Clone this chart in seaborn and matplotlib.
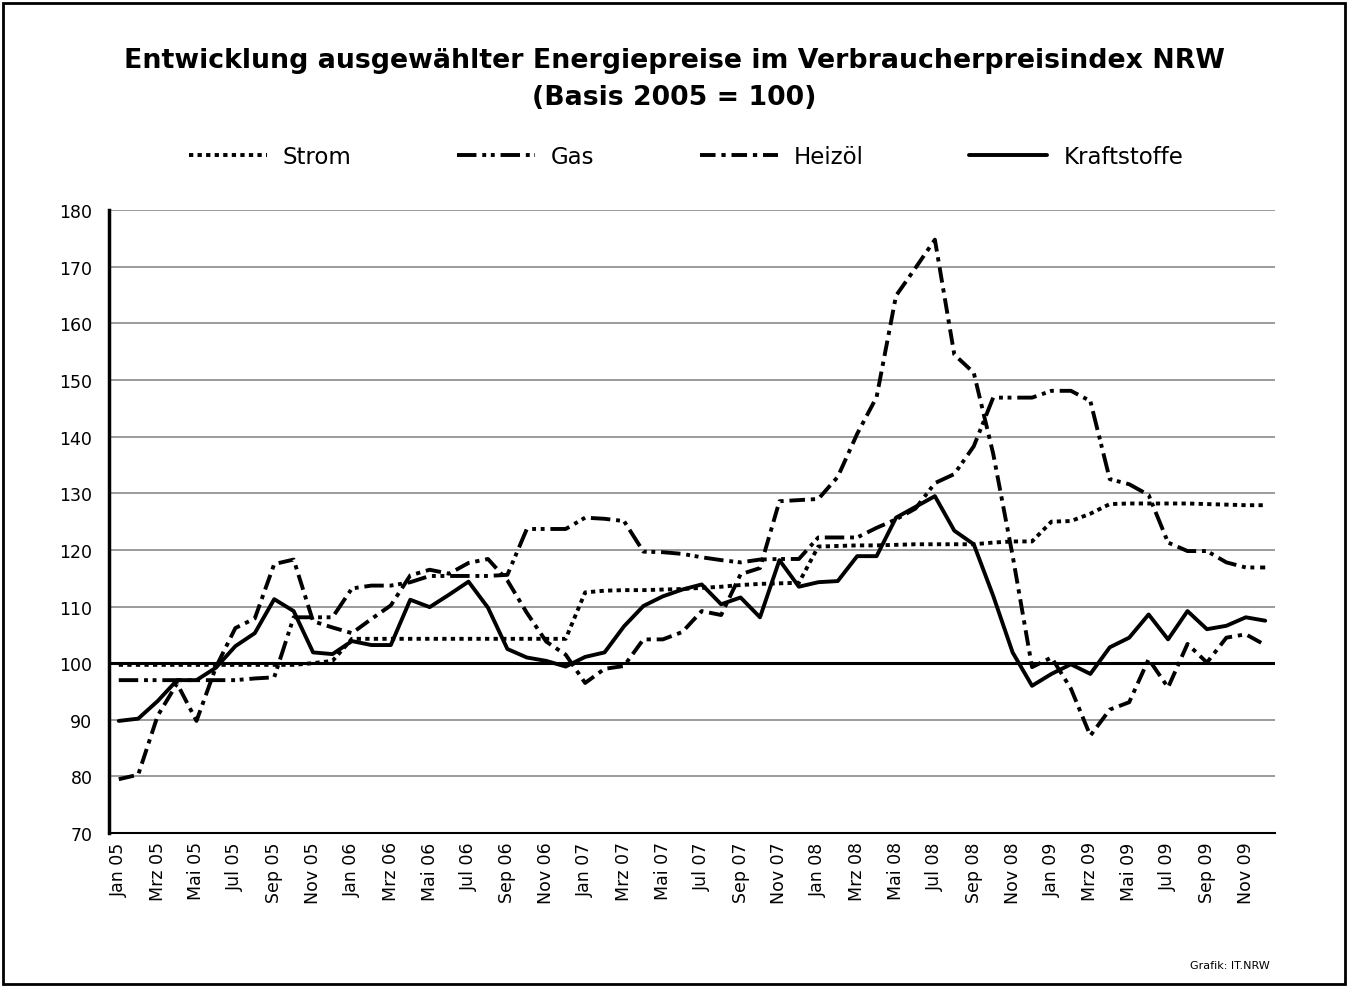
import matplotlib
matplotlib.use("Agg")
import matplotlib.pyplot as plt
import matplotlib.patches as mpatches
import seaborn as sns
import pandas as pd
import numpy as np

# ---------------- data ----------------
month_names = ["Jan", "Feb", "Mrz", "Apr", "Mai", "Jun", "Jul", "Aug", "Sep", "Okt", "Nov", "Dez"]
years = ["05", "06", "07", "08", "09"]
months = [f"{m} {y}" for y in years for m in month_names]

strom = [99.7, 99.7, 99.7, 99.7, 99.7, 99.7, 99.7, 99.7, 99.7, 99.7, 100.0, 100.4,
         104.3, 104.3, 104.3, 104.3, 104.3, 104.3, 104.3, 104.3, 104.3, 104.3, 104.3, 104.3,
         112.5, 112.8, 112.9, 112.9, 113.0, 113.1, 113.3, 113.5, 113.8, 114.0, 114.1, 114.2,
         120.6, 120.7, 120.8, 120.8, 120.9, 121.0, 121.0, 121.0, 121.0, 121.3, 121.5, 121.5,
         125.0, 125.1, 126.4, 128.1, 128.2, 128.2, 128.2, 128.2, 128.1, 128.0, 127.9, 127.9]

gas = [97.0, 97.0, 97.0, 97.0, 97.0, 97.0, 97.0, 97.3, 97.5, 108.1, 108.1, 108.1,
       113.2, 113.7, 113.7, 114.3, 115.4, 115.4, 115.4, 115.4, 115.6, 123.7, 123.7, 123.7,
       125.7, 125.5, 125.1, 119.7, 119.6, 119.3, 118.7, 118.2, 117.8, 118.3, 118.4, 118.4,
       122.2, 122.2, 122.2, 123.9, 125.4, 127.3, 131.8, 133.4, 138.3, 146.9, 146.9, 146.9,
       148.1, 148.1, 146.3, 132.5, 131.6, 129.7, 121.3, 119.8, 119.8, 117.8, 116.9, 116.9]

heizoel = [79.5, 80.3, 90.7, 96.4, 89.8, 99.3, 106.2, 107.9, 117.5, 118.3, 107.4, 106.3,
           105.3, 107.8, 110.2, 115.5, 116.5, 115.8, 117.7, 118.4, 114.6, 108.9, 103.8, 101.5,
           96.5, 99.0, 99.5, 104.2, 104.2, 105.5, 109.2, 108.5, 115.7, 116.8, 128.6, 128.8,
           129.0, 132.9, 140.5, 147.0, 164.9, 169.8, 174.8, 154.5, 151.3, 137.0, 119.0, 99.3,
           101.0, 95.5, 87.2, 91.8, 93.1, 100.7, 95.7, 103.4, 100.1, 104.5, 105.1, 103.2]

kraftstoffe = [89.8, 90.2, 93.3, 97.0, 97.0, 99.2, 103.0, 105.3, 111.3, 109.2, 101.9, 101.6,
               103.9, 103.2, 103.2, 111.2, 109.9, 112.1, 114.4, 109.8, 102.5, 101.0, 100.4, 99.4,
               101.1, 101.9, 106.5, 110.1, 111.8, 113.0, 113.9, 110.4, 111.6, 108.1, 118.2, 113.5,
               114.3, 114.5, 118.9, 118.9, 125.7, 127.6, 129.5, 123.4, 121.0, 111.9, 101.9, 96.0,
               98.1, 99.8, 98.1, 102.8, 104.5, 108.6, 104.2, 109.2, 106.0, 106.6, 108.1, 107.5]

series_names = ["Strom", "Gas", "Heizöl", "Kraftstoffe"]
y_ticks = [70, 80, 90, 100, 110, 120, 130, 140, 150, 160, 170, 180]

# ---------------- build long table ----------------
idx = np.arange(len(months))
df = pd.concat([
    pd.DataFrame({"idx": idx, "Monat": months, "Wert": vals, "Serie": name})
    for name, vals in zip(series_names, [strom, gas, heizoel, kraftstoffe])
], ignore_index=True)

sns.set_theme(style="white")
plt.rcParams["font.family"] = ["DejaVu Sans"]
plt.rcParams["text.color"] = "black"
plt.rcParams["xtick.color"] = "black"
plt.rcParams["ytick.color"] = "black"
plt.rcParams["axes.labelcolor"] = "black"

fig = plt.figure(figsize=(13.48, 9.87), dpi=100)
ax = fig.add_axes([0.0809, 0.155, 0.8649, 0.631])

dash_map = {
    "Strom": (1.1, 1.1),
    "Gas": (5, 1.5, 1, 1.2, 1, 1.5),
    "Heizöl": (4, 1.5, 1.1, 1.5),
    "Kraftstoffe": "",
}

sns.lineplot(data=df, x="idx", y="Wert", style="Serie", style_order=series_names,
             dashes=dash_map, color="black", linewidth=2.8, ax=ax, legend="full")

ax.set_xlim(-0.5, len(months) - 0.5)
ax.set_ylim(70, 180)
ax.set_yticks(y_ticks)
ax.set_yticklabels([str(t) for t in y_ticks], fontsize=12.5, color="black")
ax.set_xticks(idx[::2])
ax.set_xticklabels(months[::2], rotation=90, fontsize=12.5, color="black")
ax.set_xlabel("")
ax.set_ylabel("")

ax.yaxis.grid(True, color="#808080", linewidth=1.1)
ax.xaxis.grid(False)
ax.set_axisbelow(True)
ax.axhline(100, color="black", linewidth=2.2, zorder=1.5)

for s in ["top", "right"]:
    ax.spines[s].set_visible(False)
ax.spines["left"].set_color("black")
ax.spines["left"].set_linewidth(2.5)
ax.spines["bottom"].set_color("black")
ax.spines["bottom"].set_linewidth(1.5)
ax.tick_params(axis="y", which="major", direction="out", length=6, width=2, color="black", pad=6)
ax.tick_params(axis="x", which="major", length=0, pad=6)

# legend
handles, labels = ax.get_legend_handles_labels()
pairs = [(h, l) for h, l in zip(handles, labels) if l in series_names]
ax.get_legend().remove()
for h, _ in pairs:
    h.set_linewidth(2.8)
fig.legend([p[0] for p in pairs], [p[1] for p in pairs], loc="center",
           bbox_to_anchor=(0.509, 0.84), ncol=4, frameon=False, fontsize=16.5,
           handlelength=3.4, handletextpad=0.7, columnspacing=4.6)

# titles and source
fig.text(0.5, 0.938, "Entwicklung ausgewählter Energiepreise im Verbraucherpreisindex NRW",
         ha="center", va="center", fontsize=19.3, fontweight="bold", color="black")
fig.text(0.5, 0.901, "(Basis 2005 = 100)", ha="center", va="center",
         fontsize=19.3, fontweight="bold", color="black")
fig.text(0.942, 0.021, "Grafik: IT.NRW", ha="right", va="center", fontsize=8, color="black")

# outer frame
fig.patches.append(mpatches.Rectangle((0.002, 0.002), 0.996, 0.994, transform=fig.transFigure,
                                      fill=False, edgecolor="black", linewidth=2))

fig.savefig("out.png", dpi=100)
